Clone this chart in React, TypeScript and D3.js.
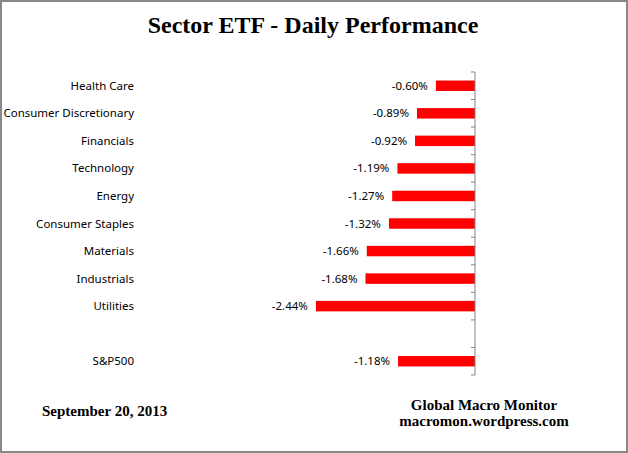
import React, { useEffect, useRef } from 'react';
import * as d3 from 'd3';

// sector names top to bottom, the blank slot separates the index
const categories = [
  'Health Care',
  'Consumer Discretionary',
  'Financials',
  'Technology',
  'Energy',
  'Consumer Staples',
  'Materials',
  'Industrials',
  'Utilities',
  '',
  'S&P500',
];
const values: (number | null)[] = [-0.6, -0.89, -0.92, -1.19, -1.27, -1.32, -1.66, -1.68, -2.44, null, -1.18];
const xDomain = [-2.5, 0];

const title = 'Sector ETF - Daily Performance';
const dateText = 'September 20, 2013';
const sourceLines = ['Global Macro Monitor', 'macromon.wordpress.com'];

const W = 628;
const H = 453;

const App = () => {
  const ref = useRef<SVGSVGElement>(null);

  useEffect(() => {
    const svg = d3.select(ref.current);
    svg.selectAll('*').remove();

    // outer frame
    svg.append('rect')
      .attr('x', 1).attr('y', 1)
      .attr('width', W - 2).attr('height', H - 2)
      .attr('fill', '#fff')
      .attr('stroke', '#888')
      .attr('stroke-width', 2);

    const keys = categories.map((c, i) => i + ':' + c);

    const y = d3.scaleBand<string>()
      .domain(keys)
      .range([72, 375])
      .paddingInner(0.62)
      .paddingOuter(0.31);
    const step = y.step();

    const x = d3.scaleLinear().domain(xDomain).range([312, 475]);

    const serif = '"Liberation Serif", "Times New Roman", serif';
    const sans = '"Noto Sans", "DejaVu Sans", sans-serif';

    svg.append('text')
      .attr('x', 313).attr('y', 33)
      .attr('text-anchor', 'middle')
      .attr('font-family', serif)
      .attr('font-weight', 'bold')
      .attr('font-size', 24)
      .attr('fill', '#000')
      .text(title);

    const data = keys.map((k, i) => ({ key: k, name: categories[i], value: values[i] }));

    // bars
    svg.append('g')
      .selectAll('rect')
      .data(data.filter(d => d.value !== null))
      .enter()
      .append('rect')
      .attr('x', d => x(d.value as number))
      .attr('y', d => y(d.key) as number)
      .attr('width', d => x(0) - x(d.value as number))
      .attr('height', y.bandwidth())
      .attr('fill', '#ff0000');

    // value labels
    svg.append('g')
      .selectAll('text')
      .data(data.filter(d => d.value !== null))
      .enter()
      .append('text')
      .attr('x', d => x(d.value as number) - 8)
      .attr('y', d => (y(d.key) as number) + y.bandwidth() / 2)
      .attr('dy', '0.35em')
      .attr('text-anchor', 'end')
      .attr('font-family', sans)
      .attr('font-size', 11.5)
      .attr('fill', '#000')
      .text(d => (d.value as number).toFixed(2) + '%');

    // category labels
    svg.append('g')
      .selectAll('text')
      .data(data.filter(d => d.name !== ''))
      .enter()
      .append('text')
      .attr('x', 134)
      .attr('y', d => (y(d.key) as number) + y.bandwidth() / 2)
      .attr('dy', '0.35em')
      .attr('text-anchor', 'end')
      .attr('font-family', sans)
      .attr('font-size', 11.5)
      .attr('fill', '#000')
      .text(d => d.name);

    // vertical axis at zero with ticks between categories
    const axis = svg.append('g');
    axis.append('line')
      .attr('x1', x(0)).attr('x2', x(0))
      .attr('y1', 72).attr('y2', 375)
      .attr('stroke', '#868686');
    const tickYs = d3.range(categories.length + 1).map(i => 72 + i * step);
    axis.selectAll('line.tick')
      .data(tickYs)
      .enter()
      .append('line')
      .attr('class', 'tick')
      .attr('x1', x(0) - 4).attr('x2', x(0))
      .attr('y1', d => d).attr('y2', d => d)
      .attr('stroke', '#868686');

    // footer
    svg.append('text')
      .attr('x', 42).attr('y', 416)
      .attr('font-family', serif)
      .attr('font-weight', 'bold')
      .attr('font-size', 15)
      .attr('fill', '#000')
      .text(dateText);

    svg.append('g')
      .selectAll('text')
      .data(sourceLines)
      .enter()
      .append('text')
      .attr('x', 484)
      .attr('y', (_d, i) => 410 + i * 16)
      .attr('text-anchor', 'middle')
      .attr('font-family', serif)
      .attr('font-weight', 'bold')
      .attr('font-size', 15)
      .attr('fill', '#000')
      .text(d => d);
  }, []);

  return (
    <svg
      ref={ref}
      width={W}
      height={H}
      style={{ position: 'absolute', left: 0, top: 0, display: 'block' }}
    />
  );
};

export default App;
